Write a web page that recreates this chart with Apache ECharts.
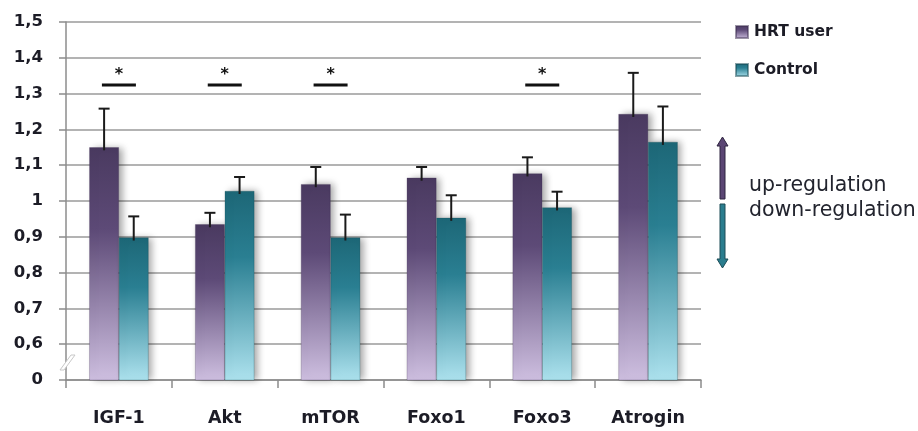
<!DOCTYPE html>
<html>
<head>
<meta charset="utf-8">
<script src="https://cdn.jsdelivr.net/npm/echarts@6/dist/echarts.min.js"></script>
<style>
  html, body { margin: 0; padding: 0; background: #fff; }
  #chart { width: 918px; height: 431px; }
</style>
</head>
<body>
<div id="chart"></div>
<script>
// Gene expression relative to baseline, mean with upper error (SD)
const categories = ['IGF-1', 'Akt', 'mTOR', 'Foxo1', 'Foxo3', 'Atrogin'];
const hrtMean   = [1.15, 0.935, 1.047, 1.065, 1.077, 1.243];
const hrtErr    = [1.258, 0.967, 1.095, 1.095, 1.122, 1.358];
const ctrlMean  = [0.898, 1.028, 0.898, 0.953, 0.982, 1.165];
const ctrlErr   = [0.957, 1.067, 0.962, 1.016, 1.026, 1.264];
// Significant differences (*) between groups
const sigCategories = ['IGF-1', 'Akt', 'mTOR', 'Foxo3'];
const sigLevel = 1.324;
// Y axis: the 0 tick sits below a break, one step under 0,6
const yMin = 0.5, yMax = 1.5, yStep = 0.1;

const FONT = '"DejaVu Sans"';
const TEXT = '#1c1c26';

const hrtFill = new echarts.graphic.LinearGradient(0, 0, 0, 1, [
  { offset: 0, color: '#4a3a60' },
  { offset: 0.35, color: '#5d4a77' },
  { offset: 1, color: '#cebfe0' }
]);
const ctrlFill = new echarts.graphic.LinearGradient(0, 0, 0, 1, [
  { offset: 0, color: '#1d6777' },
  { offset: 0.35, color: '#2a7f92' },
  { offset: 1, color: '#ade2ee' }
]);

const BAR_FRAC = 0.28;

function errorSeries(name, means, errs, side) {
  return {
    type: 'custom',
    name: name + ' err',
    z: 5,
    silent: true,
    data: categories.map((c, i) => [i, means[i], errs[i]]),
    renderItem: function (params, api) {
      const band = api.size([1, 0])[0];
      const bw = band * BAR_FRAC;
      const base = api.coord([api.value(0), api.value(1)]);
      const top = api.coord([api.value(0), api.value(2)]);
      const x = base[0] + side * bw / 2;
      const cap = 5.5;
      const style = { stroke: '#1a1a1a', lineWidth: 2 };
      return {
        type: 'group',
        children: [
          { type: 'line', shape: { x1: x, y1: base[1] + 3, x2: x, y2: top[1] }, style: style },
          { type: 'line', shape: { x1: x - cap, y1: top[1], x2: x + cap, y2: top[1] }, style: style }
        ]
      };
    }
  };
}

const chart = echarts.init(document.getElementById('chart'), null, { renderer: 'canvas' });

chart.setOption({
  animation: false,
  backgroundColor: '#ffffff',
  grid: { left: 66, right: 217, top: 22, bottom: 51 },
  legend: {
    data: ['HRT user', 'Control'],
    orient: 'vertical',
    left: 735,
    top: 24,
    padding: 0,
    itemGap: 22,
    itemWidth: 12,
    itemHeight: 12,
    icon: 'rect',
    textStyle: { fontFamily: FONT, fontWeight: 'bold', fontSize: 15.5, color: TEXT, padding: [0, 0, 0, 1] }
  },
  xAxis: {
    type: 'category',
    data: categories,
    axisLine: { lineStyle: { color: '#8c8c8c', width: 1.5 } },
    axisTick: { show: true, length: 8, lineStyle: { color: '#8c8c8c', width: 1.5 } },
    axisLabel: { fontFamily: FONT, fontWeight: 'bold', fontSize: 17.5, color: TEXT, margin: 29 }
  },
  yAxis: {
    type: 'value',
    min: yMin,
    max: yMax,
    interval: yStep,
    axisLine: { show: true, lineStyle: { color: '#8c8c8c', width: 1.5 } },
    axisTick: { show: true, length: 7, lineStyle: { color: '#8c8c8c', width: 1.5 } },
    splitLine: { lineStyle: { color: '#9a9a9a', width: 1.5 } },
    axisLabel: {
      fontFamily: FONT, fontWeight: 'bold', fontSize: 16.5, color: TEXT, margin: 23,
      formatter: function (v) {
        if (Math.abs(v - yMin) < 1e-9) return '0';
        return String(Math.round(v * 10) / 10).replace('.', ',');
      }
    }
  },
  series: [
    {
      name: 'HRT user',
      type: 'bar',
      data: hrtMean,
      barWidth: (BAR_FRAC * 100) + '%',
      barGap: '0%',
      clip: true,
      itemStyle: {
        color: hrtFill,
        borderColor: 'rgba(60,45,80,0.5)',
        borderWidth: 0.5,
        shadowColor: 'rgba(0,0,0,0.35)',
        shadowBlur: 7,
        shadowOffsetX: 4
      }
    },
    {
      name: 'Control',
      type: 'bar',
      data: ctrlMean,
      barWidth: (BAR_FRAC * 100) + '%',
      clip: true,
      itemStyle: {
        color: ctrlFill,
        borderColor: 'rgba(20,70,80,0.5)',
        borderWidth: 0.5,
        shadowColor: 'rgba(0,0,0,0.35)',
        shadowBlur: 7,
        shadowOffsetX: 4
      }
    },
    errorSeries('HRT user', hrtMean, hrtErr, -1),
    errorSeries('Control', ctrlMean, ctrlErr, 1),
    {
      type: 'custom',
      name: 'significance',
      silent: true,
      z: 6,
      data: sigCategories.map(c => [categories.indexOf(c), sigLevel]),
      renderItem: function (params, api) {
        const p = api.coord([api.value(0), api.value(1)]);
        return {
          type: 'group',
          children: [
            { type: 'line', shape: { x1: p[0] - 17, y1: p[1], x2: p[0] + 17, y2: p[1] },
              style: { stroke: '#111', lineWidth: 3 } },
            { type: 'text', x: p[0], y: p[1] - 10,
              style: { text: '*', fill: '#111', font: 'bold 16px ' + FONT, align: 'center', verticalAlign: 'middle' } }
          ]
        };
      }
    }
  ],
  graphic: [
    // axis break mark between 0 and 0,6
    { type: 'polygon', z: 10, shape: { points: [[60, 370], [64, 370], [75, 355], [71, 355]] },
      style: { fill: '#ffffff', stroke: '#c8c8c8', lineWidth: 1 } },
    // up-regulation arrow
    { type: 'polygon', z: 10,
      shape: { points: [[722.5, 137], [728, 146], [725, 146], [725, 199], [720, 199], [720, 146], [717, 146]] },
      style: { fill: '#5b4674', stroke: '#2e2440', lineWidth: 1 } },
    // down-regulation arrow
    { type: 'polygon', z: 10,
      shape: { points: [[720, 204], [725, 204], [725, 259], [728, 259], [722.5, 268], [717, 259], [720, 259]] },
      style: { fill: '#2a7d8e', stroke: '#1c4c56', lineWidth: 1 } },
    { type: 'text', x: 749, y: 186, z: 10,
      style: { text: 'up-regulation', fill: '#22242e', font: '20.5px ' + FONT, verticalAlign: 'middle' } },
    { type: 'text', x: 749, y: 211, z: 10,
      style: { text: 'down-regulation', fill: '#22242e', font: '20.5px ' + FONT, verticalAlign: 'middle' } }
  ]
});
</script>
</body>
</html>
